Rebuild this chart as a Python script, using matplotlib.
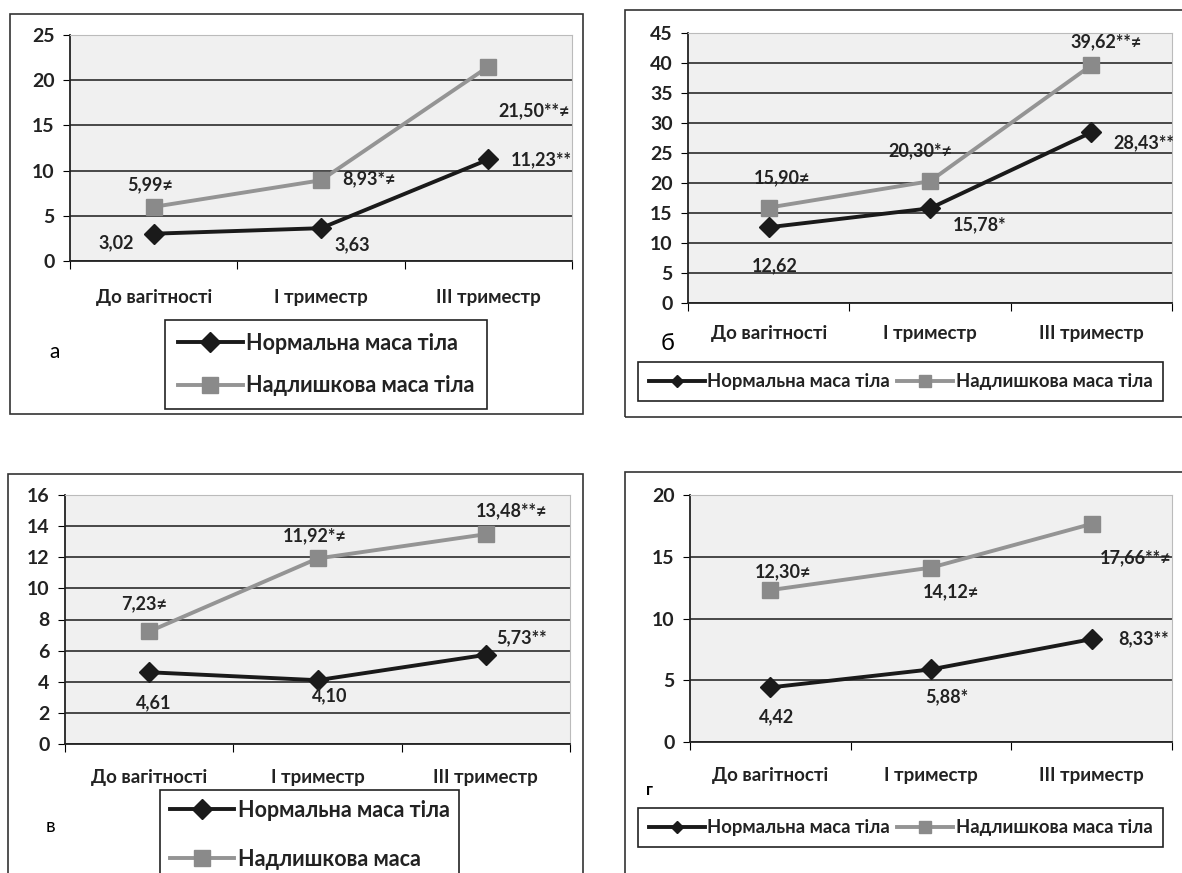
import matplotlib
matplotlib.use("Agg")
import matplotlib.pyplot as plt
from matplotlib.patches import Rectangle

plt.rcParams['font.family'] = ['Lato', 'DejaVu Sans']

# Data
categories = ['До вагітності', 'І триместр', 'ІІІ триместр']
series_names = ['Нормальна маса тіла', 'Надлишкова маса тіла']

a_normal = [3.02, 3.63, 11.23]
a_excess = [5.99, 8.93, 21.50]
a_normal_lbl = ['3,02', '3,63', '11,23**']
a_excess_lbl = ['5,99≠', '8,93*≠', '21,50**≠']

b_normal = [12.62, 15.78, 28.43]
b_excess = [15.90, 20.30, 39.62]
b_normal_lbl = ['12,62', '15,78*', '28,43**']
b_excess_lbl = ['15,90≠', '20,30*≠', '39,62**≠']

c_normal = [4.61, 4.10, 5.73]
c_excess = [7.23, 11.92, 13.48]
c_normal_lbl = ['4,61', '4,10', '5,73**']
c_excess_lbl = ['7,23≠', '11,92*≠', '13,48**≠']

d_normal = [4.42, 5.88, 8.33]
d_excess = [12.30, 14.12, 17.66]
d_normal_lbl = ['4,42', '5,88*', '8,33**']
d_excess_lbl = ['12,30≠', '14,12≠', '17,66**≠']

W, H = 1182, 873
fig = plt.figure(figsize=(W / 100, H / 100), dpi=100)


def fx(px):
    return px / W


def fy(py):
    return 1 - py / H


# outer frames of the four panels
for x0, y0, x1, y1 in [(10, 14, 583, 414), (625, 10, 1190, 417),
                       (8, 474, 583, 890), (625, 472, 1190, 890)]:
    fig.patches.append(Rectangle((fx(x0), fy(y1)), fx(x1 - x0), (y1 - y0) / H,
                                 transform=fig.transFigure, fill=False,
                                 edgecolor='#333333', linewidth=1.2, zorder=0))


def panel(box, normal, excess, nlbl, elbl, ymax, ystep, noff, eoff, cat_pad):
    x0, y0, x1, y1 = box
    ax = fig.add_axes([fx(x0), fy(y1), fx(x1 - x0), (y1 - y0) / H])
    ax.set_facecolor('#f0f0f0')
    xs = [0.5, 1.5, 2.5]
    ax.plot(xs, normal, color='#1a1a1a', lw=2.8, marker='D', ms=10,
            label=series_names[0], zorder=4)
    ax.plot(xs, excess, color='#949494', lw=2.8, marker='s', ms=12,
            markerfacecolor='#8a8a8a', markeredgecolor='#8a8a8a',
            label=series_names[1], zorder=3)
    for x, v, t, o in zip(xs, normal, nlbl, noff):
        ax.annotate(t, (x, v), xytext=o, textcoords='offset pixels',
                    ha='center', va='center', fontsize=13, color='#222222',
                    fontweight='bold', annotation_clip=False, zorder=5)
    for x, v, t, o in zip(xs, excess, elbl, eoff):
        ax.annotate(t, (x, v), xytext=o, textcoords='offset pixels',
                    ha='center', va='center', fontsize=13, color='#222222',
                    fontweight='bold', annotation_clip=False, zorder=5)
    ax.set_xlim(0, 3)
    ax.set_ylim(0, ymax)
    ax.set_yticks(range(0, ymax + 1, ystep))
    ax.yaxis.grid(True, color='#1a1a1a', lw=1.1)
    ax.set_axisbelow(True)
    ax.set_xticks([0, 1, 2, 3])
    ax.set_xticklabels([])
    ax.set_xticks(xs, minor=True)
    ax.set_xticklabels(categories, minor=True, fontsize=13.5, fontweight='bold',
                       color='#222222')
    ax.tick_params(axis='x', which='major', length=6, direction='out')
    ax.tick_params(axis='x', which='minor', length=0, pad=cat_pad)
    ax.tick_params(axis='y', length=5, labelsize=14, pad=6)
    for lab in ax.get_yticklabels():
        lab.set_fontweight('bold')
        lab.set_color('#222222')
    ax.spines['top'].set_color('#bbbbbb')
    ax.spines['right'].set_color('#bbbbbb')
    ax.spines['left'].set_color('#222222')
    ax.spines['bottom'].set_color('#222222')
    ax.spines['bottom'].set_linewidth(1.3)
    ax.spines['left'].set_linewidth(1.3)
    return ax


ax_a = panel((70, 35, 572, 261), a_normal, a_excess, a_normal_lbl, a_excess_lbl,
             25, 5, [(-37, -9), (31, -17), (53, 0)], [(-4, 22), (48, 2), (46, -44)], 20)
ax_b = panel((688, 33, 1172, 303), b_normal, b_excess, b_normal_lbl, b_excess_lbl,
             45, 5, [(6, -38), (50, -16), (52, -10)], [(13, 30), (-10, 30), (15, 24)], 16)
ax_c = panel((65, 495, 570, 744), c_normal, c_excess, c_normal_lbl, c_excess_lbl,
             16, 2, [(5, -30), (12, -16), (36, 17)], [(-5, 28), (-3, 23), (26, 23)], 18)
ax_d = panel((690, 495, 1172, 742), d_normal, d_excess, d_normal_lbl, d_excess_lbl,
             20, 5, [(6, -29), (16, -27), (52, 0)], [(13, 18), (20, -24), (44, -34)], 18)

# panel letters
fig.text(fx(55), fy(352), 'а', fontsize=15, ha='center', va='center')
fig.text(fx(668), fy(343), 'б', fontsize=17, ha='center', va='center')
fig.text(fx(50), fy(827), 'в', fontsize=14, ha='center', va='center')
fig.text(fx(650), fy(790), 'г', fontsize=12, ha='center', va='center', fontweight='bold')

# legends
leg_kw = dict(frameon=True, fancybox=False, edgecolor='#222222', framealpha=1,
              handlelength=3.0, handletextpad=0.15, borderaxespad=0)
for ax, anchor, ncol, fs, extra, labels, small in [
        (ax_a, (165, 320), 1, 15.5, dict(labelspacing=1.0, borderpad=0.6), series_names, False),
        (ax_b, (638, 362), 2, 13.3, dict(columnspacing=0.4, borderpad=0.6), series_names, True),
        (ax_c, (160, 790), 1, 15.5, dict(labelspacing=1.3, borderpad=0.45),
         [series_names[0], 'Надлишкова маса'], False),
        (ax_d, (638, 808), 2, 13.3, dict(columnspacing=0.4, borderpad=0.6), series_names, True)]:
    handles = ax.get_lines()[:2]
    leg = fig.legend(handles, labels, loc='upper left',
                     bbox_to_anchor=(fx(anchor[0]), fy(anchor[1])),
                     ncol=ncol, prop={'size': fs, 'weight': 'bold',
                                      'family': ['Lato', 'DejaVu Sans']},
                     **leg_kw, **extra)
    leg.get_frame().set_linewidth(1.2)
    for t in leg.get_texts():
        t.set_color('#222222')
    if small:
        hs = leg.legend_handles
        hs[0].set_markersize(6)
        hs[1].set_markersize(9)

fig.savefig('out.png', dpi=100)
